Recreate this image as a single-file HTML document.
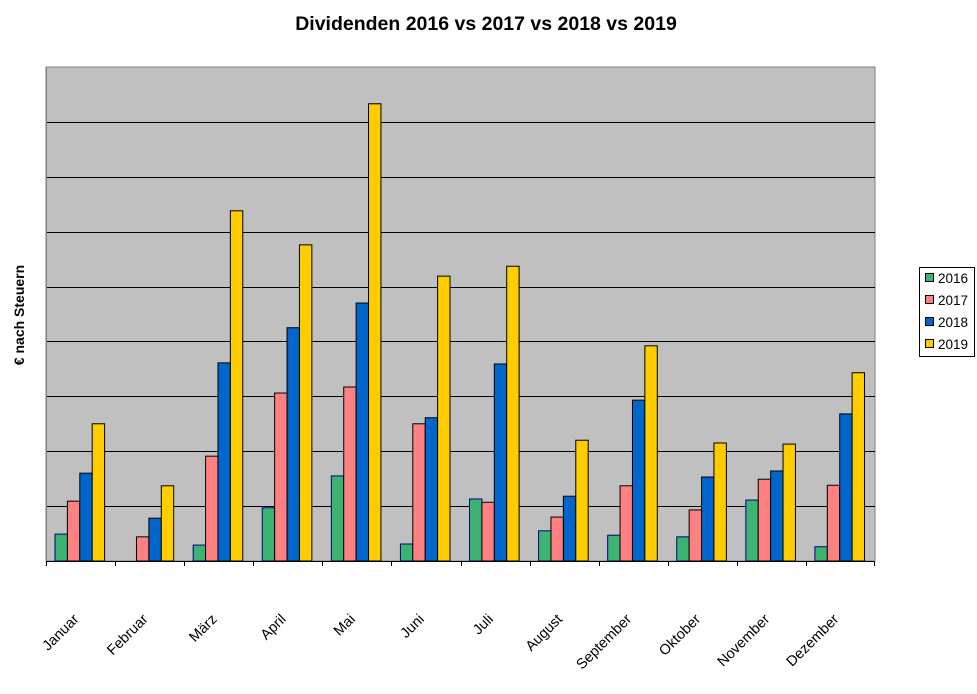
<!DOCTYPE html>
<html><head><meta charset="utf-8"><style>
body{margin:0;background:#fff;}
svg{display:block;font-family:"Liberation Sans",Arial,sans-serif;}
</style></head><body>
<svg id="chart" width="977" height="694" viewBox="0 0 977 694">
<text x="486" y="30" text-anchor="middle" font-size="19.5" font-weight="bold">Dividenden 2016 vs 2017 vs 2018 vs 2019</text>
<rect x="46" y="67" width="829" height="494" fill="#c0c0c0" stroke="#808080" stroke-width="1"/>
<g id="grid"></g>
<g id="bars"></g>
<line x1="46" y1="561.5" x2="875" y2="561.5" stroke="#000" stroke-width="1"/>
<line x1="46.5" y1="67" x2="46.5" y2="561" stroke="#808080" stroke-width="1"/>
<g id="xlabels"></g>
<text transform="translate(24,315) rotate(-90)" text-anchor="middle" font-size="14" font-weight="bold">€ nach Steuern</text>
<g>
<rect x="919.5" y="267.5" width="55" height="89" fill="#fff" stroke="#000"/>
<g id="legend"></g>
</g>
</svg>
<script>
const categories=["Januar","Februar","März","April","Mai","Juni","Juli","August","September","Oktober","November","Dezember"];
const seriesNames=["2016","2017","2018","2019"];
const v2016=[49,0,29,97,155,31,113,55,47,44,111,26];
const v2017=[109,44,191,306,317,250,107,80,137,93,149,138];
const v2018=[160,78,361,425,470,261,359,118,293,153,164,268];
const v2019=[250,137,638,576,833,519,537,220,392,215,213,343];
const colors=["#3cb371","#ff8080","#0066cc","#ffcc00"];
const NS="http://www.w3.org/2000/svg";
const X0=46,X1=875,Y0=561,Y1=67,YMAX=900,GRID=100;
const y=v=>Y0-(v/YMAX)*(Y0-Y1);
const cw=(X1-X0)/categories.length;
const x=i=>X0+i*cw;
function mk(t,a,p){const e=document.createElementNS(NS,t);for(const k in a)e.setAttribute(k,a[k]);p.appendChild(e);return e;}
const grid=document.getElementById('grid');
for(let g=GRID;g<YMAX;g+=GRID){const l=mk('line',{x1:X0,x2:X1,y1:Math.round(y(g))+0.5,y2:Math.round(y(g))+0.5,stroke:'#000','stroke-width':1},grid);

}
const bars=document.getElementById('bars');
const all=[v2016,v2017,v2018,v2019];
const bw=12.4,off=9;
categories.forEach((c,i)=>{
 all.forEach((s,j)=>{
  if(s[i]<=0)return;
  const r=mk('rect',{x:x(i)+off+j*bw,y:y(s[i]),width:bw,height:Y0-y(s[i]),fill:colors[j],stroke:j==0?'#000080':'#000','stroke-width':1},bars);
  
  
 });
 const t=mk('line',{x1:Math.round(x(i))+0.5,x2:Math.round(x(i))+0.5,y1:Y0,y2:Y0+5,stroke:'#000'},bars);
 
 
 const cx=x(i)+cw/2-1,cy=620;
 const tx=mk('text',{x:cx,y:cy,'text-anchor':'end','font-size':14.5,transform:`rotate(-45 ${cx} ${cy})`},document.getElementById('xlabels'));
 tx.textContent=c;
 
 
});
const t2=mk('line',{x1:X1-0.5,x2:X1-0.5,y1:Y0,y2:Y0+5,stroke:'#000'},bars);


const lg=document.getElementById('legend');
seriesNames.forEach((n,j)=>{
 const yy=279+j*22;
 const r=mk('rect',{x:925.5,y:yy-5.5,width:8,height:8,fill:colors[j],stroke:'#000'},lg);
 
 
 const t=mk('text',{x:938,y:yy+4,'font-size':13.5},lg);
 t.textContent=n;
 
 
});
</script>
</body></html>
